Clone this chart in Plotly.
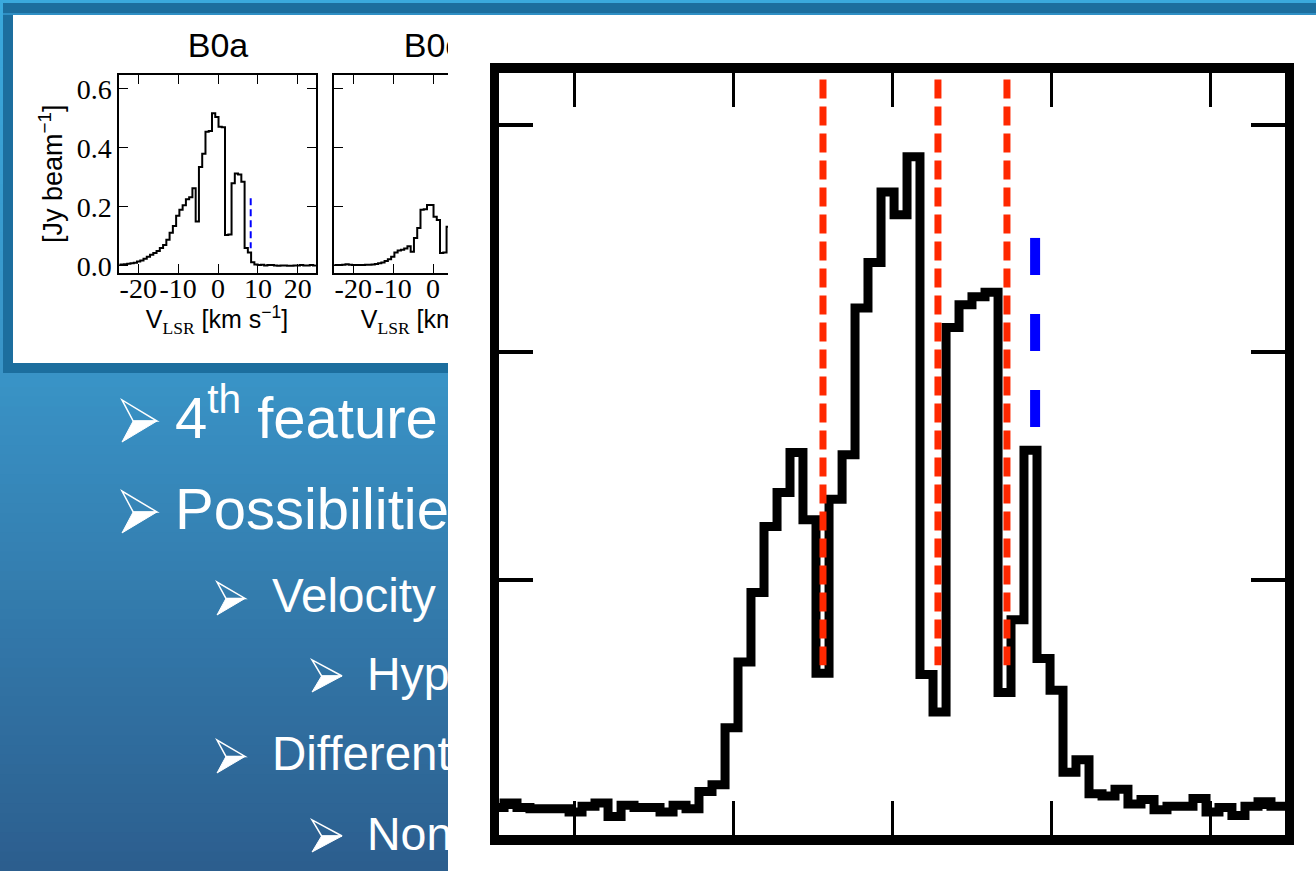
import plotly.graph_objects as go

W, H = 1316, 871

# ---------------- data ----------------
velocity = [-24.81, -23.99, -23.18, -22.36, -21.54, -20.72, -19.90, -19.09, -18.27, -17.45,
            -16.63, -15.82, -15.00, -14.18, -13.36, -12.55, -11.73, -10.91, -10.09, -9.28,
            -8.46, -7.64, -6.82, -6.01, -5.19, -4.37, -3.55, -2.73, -1.92, -1.10,
            -0.28, 0.54, 1.35, 2.17, 2.99, 3.81, 4.62, 5.44, 6.26, 7.08,
            7.89, 8.71, 9.53, 10.35, 11.16, 11.98, 12.80, 13.62, 14.43, 15.25,
            16.07, 16.89, 17.70, 18.52, 19.34, 20.16, 20.97, 21.79, 22.61, 23.43,
            24.24, 25.06]

main_flux = [0.000, 0.004, 0.000, -0.001, -0.001, -0.001, -0.004, 0.001, 0.004, -0.008,
             0.002, 0.000, 0.000, -0.004, 0.002, -0.001, 0.014, 0.020, 0.070, 0.128,
             0.189, 0.247, 0.277, 0.312, 0.253, 0.118, 0.271, 0.310, 0.439, 0.479,
             0.541, 0.521, 0.572, 0.117, 0.084, 0.422, 0.442, 0.449, 0.453, 0.101,
             0.165, 0.314, 0.131, 0.103, 0.031, 0.042, 0.012, 0.010, 0.016, 0.003,
             0.007, -0.002, 0.001, 0.001, 0.008, -0.004, 0.000, -0.007, 0.001, 0.005,
             0.001, 0.001]

b0a_flux = [0.003, 0.004, 0.005, 0.007, 0.008, 0.010, 0.014, 0.018, 0.024, 0.030,
            0.037, 0.043, 0.050, 0.060, 0.070, 0.088, 0.112, 0.135, 0.170, 0.190,
            0.205, 0.226, 0.232, 0.263, 0.150, 0.335, 0.380, 0.455, 0.457, 0.518,
            0.505, 0.472, 0.470, 0.104, 0.106, 0.280, 0.313, 0.310, 0.285, 0.060,
            0.045, 0.012, 0.004, 0.002, 0.003, 0.001, 0.002, 0.002, 0.001, 0.000,
            0.001, 0.001, 0.000, 0.000, 0.001, 0.001, 0.002, 0.001, 0.001, 0.002,
            0.001, 0.000]

b0c_flux = [0.002, 0.002, 0.002, 0.003, 0.005, 0.003, 0.002, 0.002, 0.002, 0.002,
            0.003, 0.003, 0.004, 0.006, 0.008, 0.011, 0.016, 0.022, 0.030, 0.045,
            0.052, 0.054, 0.058, 0.066, 0.047, 0.094, 0.128, 0.190, 0.192, 0.206,
            0.206, 0.166, 0.155, 0.043, 0.045, 0.132]

red_line_vel = [-4.34, 2.89, 7.23]
red_line_span = [0.640, 0.125]
blue_line_vel = 9.0
blue_line_span = [0.5007, 0.3345]
b0a_blue_vel = 8.2
b0a_blue_span = [0.229, 0.059]

x_ticks = [-20, -10, 0, 10, 20]
x_tick_text = ["-20", "-10", "0", "10", "20"]
y_ticks = [0.0, 0.2, 0.4, 0.6]
y_tick_text = ["0.0", "0.2", "0.4", "0.6"]

panel_titles = ["B0a", "B0c"]
y_label = "[Jy beam<sup>\u22121</sup>]"
x_label = "V<sub><span style=\"font-family:'Liberation Serif'\">LSR</span></sub> [km s<sup>\u22121</sup>]"

bullet_texts = ["4<sup>th</sup> feature", "Possibilities", "Velocity", "Hyperfine", "Different", "Non"]
bullet_levels = [1, 1, 2, 3, 2, 3]

# ---------------- layout helpers (pixel -> paper) ----------------
def pxx(x):
    return x / W

def pxy(y):
    return 1 - y / H

fig = go.Figure()

# main spectrum
fig.add_trace(go.Scatter(x=velocity, y=main_flux, mode="lines",
                         line=dict(color="black", width=9, shape="hvh"),
                         xaxis="x", yaxis="y", hoverinfo="skip"))
for v in red_line_vel:
    fig.add_trace(go.Scatter(x=[v, v], y=red_line_span, mode="lines",
                             line=dict(color="#ff2800", width=7, dash="19px,8px"),
                             xaxis="x", yaxis="y", hoverinfo="skip"))
fig.add_trace(go.Scatter(x=[blue_line_vel, blue_line_vel], y=blue_line_span, mode="lines",
                         line=dict(color="#0000ff", width=10, dash="37px,39px"),
                         xaxis="x", yaxis="y", hoverinfo="skip"))

# inset B0a
fig.add_trace(go.Scatter(x=velocity, y=b0a_flux, mode="lines",
                         line=dict(color="black", width=2, shape="hvh"),
                         xaxis="x2", yaxis="y2", hoverinfo="skip"))
fig.add_trace(go.Scatter(x=[b0a_blue_vel, b0a_blue_vel], y=b0a_blue_span, mode="lines",
                         line=dict(color="#0000ff", width=2, dash="7px,4px"),
                         xaxis="x2", yaxis="y2", hoverinfo="skip"))
# inset B0c (clipped by the overlaying panel)
fig.add_trace(go.Scatter(x=velocity[:len(b0c_flux)], y=b0c_flux, mode="lines",
                         line=dict(color="black", width=2, shape="hvh"),
                         xaxis="x3", yaxis="y3", hoverinfo="skip"))

# texts placed in a pixel-space overlay subplot that clips at the white panel edge
def add_text(x, y, text, size, family="Liberation Sans", color="black", pos="middle center"):
    fig.add_trace(go.Scatter(x=[x], y=[y], mode="text", text=[text], textposition=pos,
                             textfont=dict(family=family, size=size, color=color),
                             xaxis="x4", yaxis="y4", hoverinfo="skip", cliponaxis=True))

add_text(218, 48, panel_titles[0], 34)
add_text(433, 48, panel_titles[1], 34)
add_text(217, 322, x_label, 25)
add_text(432, 322, x_label, 25)

level_style = {1: dict(bx=139.5, tx=175, size=58, bw=35, bh=42),
               2: dict(bx=231, tx=272, size=47.5, bw=28, bh=33),
               3: dict(bx=327, tx=367, size=46.5, bw=30, bh=32)}
line_y = [421, 512, 598.5, 676, 756.5, 836]

shapes = []

# ---------------- background shapes ----------------
stops = [(0, (58, 169, 221)), (380, (57, 147, 198)), (871, (44, 94, 142))]

def col_at(y):
    for (y0, c0), (y1, c1) in zip(stops[:-1], stops[1:]):
        if y <= y1:
            t = (y - y0) / (y1 - y0)
            return "rgb(%d,%d,%d)" % tuple(round(a + (b - a) * t) for a, b in zip(c0, c1))
    return "rgb(%d,%d,%d)" % stops[-1][1]

nb = 90
for i in range(nb):
    y0 = i * H / nb
    y1 = (i + 1) * H / nb + 3
    shapes.append(dict(type="rect", xref="paper", yref="paper", x0=0, x1=1,
                       y0=pxy(min(y1, H)), y1=pxy(y0), fillcolor=col_at((y0 + y1) / 2),
                       line=dict(width=0), layer="below"))

def rect(x0, y0, x1, y1, color):
    shapes.append(dict(type="rect", xref="paper", yref="paper", x0=pxx(x0), x1=pxx(x1),
                       y0=pxy(y1), y1=pxy(y0), fillcolor=color, line=dict(width=0), layer="below"))

rect(3, 3, W, 13, "#1c6e9e")
rect(3, 3, 448, 373, "#1c6e9e")
rect(3, 13, W, 15, "#2f8fc4")
rect(13, 15, 448, 363, "white")
rect(448, 15, W, H, "white")

# arrowhead bullets (decoration)
def bullet(cx, cy, bw, bh):
    x0, x1 = cx - bw / 2, cx + bw / 2
    y0, y1 = cy - bh / 2, cy + bh / 2
    xn = x0 + bw * 0.32
    P = lambda x, y: "%.4f,%.4f" % (pxx(x), pxy(y))
    shapes.append(dict(type="path", xref="paper", yref="paper", layer="below",
                       path="M%s L%s L%s Z" % (P(xn, cy), P(x1, cy), P(x0, y1)),
                       fillcolor="white", line=dict(color="white", width=1)))
    shapes.append(dict(type="path", xref="paper", yref="paper", layer="below",
                       path="M%s L%s L%s Z" % (P(xn, cy), P(x1, cy), P(x0, y0)),
                       fillcolor="rgba(0,0,0,0)", line=dict(color="white", width=1.5)))

for txt, lvl, yy in zip(bullet_texts, bullet_levels, line_y):
    st = level_style[lvl]
    bullet(st["bx"], yy, st["bw"], st["bh"])
    add_text(st["tx"], yy + 2, txt, st["size"], color="white", pos="middle right")

axis_common = dict(showgrid=False, zeroline=False, linecolor="black", showline=True,
                   ticks="inside", tickcolor="black", automargin=False)
inset_font = dict(family="Liberation Serif", size=28, color="black")

fig.update_layout(
    width=W, height=H, autosize=False, margin=dict(l=0, r=0, t=0, b=0, pad=0),
    paper_bgcolor="white", plot_bgcolor="rgba(0,0,0,0)", showlegend=False,
    shapes=shapes,
    xaxis=dict(domain=[pxx(499), pxx(1285)], range=[-24.717, 24.717], anchor="y",
               linewidth=10, mirror="ticks", ticklen=34, tickwidth=3,
               tickvals=x_ticks, showticklabels=False, **axis_common),
    yaxis=dict(domain=[pxy(835), pxy(73)], range=[-0.02418, 0.6457], anchor="x",
               linewidth=9, mirror="ticks", ticklen=34, tickwidth=3.5,
               tickvals=y_ticks, showticklabels=False, **axis_common),
    xaxis2=dict(domain=[pxx(119.3), pxx(315.7)], range=[-24.75, 24.5], anchor="y2",
                linewidth=2, mirror="ticks", ticklen=9, tickwidth=1, tickangle=0,
                ticklabelstandoff=-11,
                tickvals=x_ticks, ticktext=x_tick_text, tickfont=inset_font, **axis_common),
    yaxis2=dict(domain=[pxy(273), pxy(75)], range=[-0.0248, 0.6475], anchor="x2",
                linewidth=2, mirror="ticks", ticklen=9, tickwidth=1,
                tickvals=y_ticks, ticktext=y_tick_text, tickfont=inset_font, **axis_common),
    xaxis3=dict(domain=[pxx(334.3), pxx(448)], range=[-24.75, 3.76], anchor="y3",
                linewidth=2, mirror="ticks", ticklen=9, tickwidth=1, tickangle=0,
                ticklabelstandoff=-11,
                tickvals=x_ticks, ticktext=x_tick_text, tickfont=inset_font, **axis_common),
    yaxis3=dict(domain=[pxy(273), pxy(75)], range=[-0.0248, 0.6475], anchor="x3",
                linewidth=2, mirror=False, ticklen=9, tickwidth=1,
                tickvals=y_ticks, showticklabels=False, **axis_common),
    xaxis4=dict(domain=[0, pxx(448)], range=[0, 448], anchor="y4", visible=False,
                fixedrange=True, automargin=False),
    yaxis4=dict(domain=[0, 1], range=[H, 0], anchor="x4", visible=False,
                fixedrange=True, automargin=False),
    annotations=[dict(x=pxx(51), y=pxy(174), xref="paper", yref="paper", text=y_label,
                      textangle=-90, showarrow=False, xanchor="center", yanchor="middle",
                      font=dict(family="Liberation Sans", size=27, color="black"))],
)

fig.write_html("out.html", config={"displayModeBar": False},
               post_script="document.body.style.margin='0';document.body.style.overflow='hidden';")
